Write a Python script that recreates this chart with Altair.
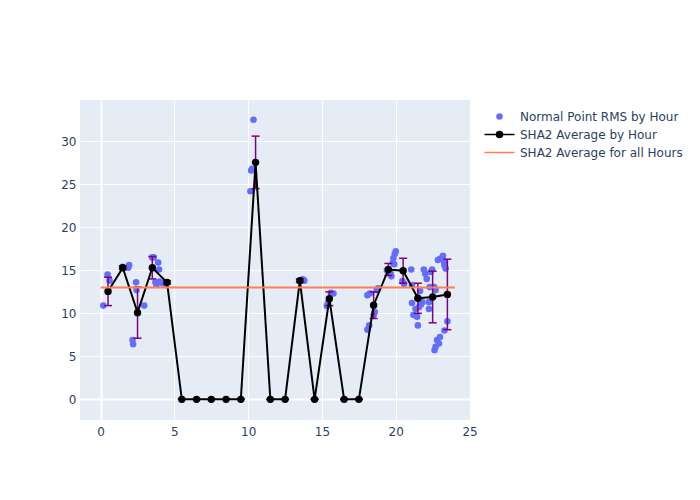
import altair as alt
import pandas as pd

# Normal point RMS scatter (hour-of-day, RMS)
pt_x = [0.18, 0.47, 0.6, 1.48, 1.87, 1.93, 2.16, 2.2, 2.4, 2.43, 2.95,
        3.49, 3.6, 3.9, 3.96, 3.71, 3.78, 4.0, 4.2, 4.4,
        10.36, 10.27, 10.2, 10.15,
        13.69, 13.8,
        15.33, 15.4, 15.6, 15.78,
        18.08, 18.2, 18.5, 18.58, 18.08, 18.24, 18.7, 18.8,
        19.4, 19.66, 19.7, 19.8, 19.9, 19.93, 20.0, 19.84,
        20.45, 20.56,
        21.05, 21.1, 21.1, 21.2, 21.45, 21.5, 21.34, 21.57, 21.7, 21.8, 21.65,
        21.9, 22.0, 22.1, 22.36, 22.47, 22.3, 22.6, 22.7, 22.25, 22.25,
        22.86, 23.0, 23.2, 23.27, 23.3, 23.38, 23.5, 23.3, 23.0, 22.8, 22.93, 22.7, 22.63]
pt_y = [10.9, 14.5, 13.8, 15.4, 15.3, 15.6, 6.9, 6.4, 13.6, 12.7, 10.9,
        16.5, 16.5, 15.9, 15.1, 13.6, 13.3, 13.7, 13.5, 13.3,
        32.5, 26.8, 26.6, 24.2,
        13.95, 13.8,
        10.85, 11.2, 12.4, 12.3,
        8.1, 8.6, 9.8, 10.15, 12.1, 12.3, 12.7, 12.9,
        15.0, 14.6, 14.3, 15.85, 15.7, 16.9, 17.2, 16.4,
        13.75, 13.45,
        15.1, 13.3, 11.2, 9.8, 9.6, 8.6, 10.5, 10.7, 11.0, 11.3, 12.6,
        15.1, 14.6, 14.0, 14.8, 15.1, 13.05, 13.05, 12.7, 11.3, 10.5,
        16.2, 16.35, 16.7, 16.0, 15.6, 15.2, 9.07, 8.0, 7.25, 6.9, 6.5, 6.1, 5.7]

# Hourly SHA2 averages and error half-widths
hour_x = [0.5, 1.5, 2.5, 3.5, 4.5, 5.5, 6.5, 7.5, 8.5, 9.5, 10.5, 11.5,
          12.5, 13.5, 14.5, 15.5, 16.5, 17.5, 18.5, 19.5, 20.5, 21.5, 22.5, 23.5]
hour_avg = [12.55, 15.3, 10.08, 15.3, 13.6, 0, 0, 0, 0, 0, 27.55, 0,
            0, 13.8, 0, 11.7, 0, 0, 10.95, 15.1, 14.95, 11.75, 11.9, 12.2]
hour_err = [1.65, 0.2, 2.97, 1.3, 0.2, 0, 0, 0, 0, 0, 3.05, 0,
            0, 0.2, 0, 0.8, 0, 0, 1.55, 0.7, 1.45, 1.75, 3.0, 4.1]

# Overall average
all_x = [0, 24]
all_avg = 13.0

series = ["Normal Point RMS by Hour", "SHA2 Average by Hour", "SHA2 Average for all Hours"]
colors = ["#636efa", "black", "coral"]
shapes = [
    "M-0.34,0A0.34,0.34,0,1,0,0.34,0A0.34,0.34,0,1,0,-0.34,0Z",
    "M-2,0L2,0M-0.4,0A0.4,0.4,0,1,0,0.4,0A0.4,0.4,0,1,0,-0.4,0Z",
    "M-2,0L2,0",
]

pts = pd.DataFrame({"x": pt_x, "y": pt_y, "s": series[0]})
hrs = pd.DataFrame({"x": hour_x, "y": hour_avg,
                    "lo": [a - e for a, e in zip(hour_avg, hour_err)],
                    "hi": [a + e for a, e in zip(hour_avg, hour_err)]})
allh = pd.DataFrame({"x": [all_x[0]], "x2": [all_x[1]], "y": [all_avg]})

gw = {"condition": {"test": "datum.value === 0", "value": 2}, "value": 1}
common_axis = dict(grid=True, gridColor="white", gridWidth=gw, domain=False, ticks=False,
                   labelColor="#2a3f5f", labelFont="DejaVu Sans", labelFontSize=12, title=None)
xs = alt.Scale(domain=[-1.4, 25.1], nice=False, zero=False)
ys = alt.Scale(domain=[-2.4, 34.8], nice=False, zero=False)
X = alt.X("x:Q", scale=xs, axis=alt.Axis(values=[0, 5, 10, 15, 20, 25], labelPadding=6, **common_axis))
Y = alt.Y("y:Q", scale=ys, axis=alt.Axis(values=[0, 5, 10, 15, 20, 25, 30], labelPadding=4, **common_axis))

leg = alt.Legend(title=None, orient="none", legendX=411, legendY=8, symbolSize=225,
                 labelFont="DejaVu Sans", labelFontSize=12, labelColor="#2a3f5f",
                 labelOffset=12, rowPadding=3, labelLimit=400)

points = alt.Chart(pts).mark_point(filled=True, opacity=1, strokeWidth=2, size=183).encode(
    x=X, y=Y,
    fill=alt.Fill("s:N", scale=alt.Scale(domain=series, range=colors), legend=leg),
    stroke=alt.Stroke("s:N", scale=alt.Scale(domain=series, range=colors), legend=leg),
    shape=alt.Shape("s:N", scale=alt.Scale(domain=series, range=shapes), legend=leg),
)

ebar = alt.Chart(hrs).mark_rule(color="purple", strokeWidth=1.5).encode(
    x=alt.X("x:Q", scale=xs, title=None), y=alt.Y("lo:Q", scale=ys, title=None), y2="hi:Q")
cap_hi = alt.Chart(hrs).mark_rule(color="purple", strokeWidth=1.5, xOffset=-4, x2Offset=4).encode(
    x=alt.X("x:Q", scale=xs, title=None), x2="x:Q", y=alt.Y("hi:Q", scale=ys, title=None))
cap_lo = alt.Chart(hrs).mark_rule(color="purple", strokeWidth=1.5, xOffset=-4, x2Offset=4).encode(
    x=alt.X("x:Q", scale=xs, title=None), x2="x:Q", y=alt.Y("lo:Q", scale=ys, title=None))
line = alt.Chart(hrs).mark_line(color="black", strokeWidth=2).encode(
    x=alt.X("x:Q", scale=xs, title=None), y=alt.Y("y:Q", scale=ys, title=None))
dots = alt.Chart(hrs).mark_point(filled=True, color="black", opacity=1, size=55).encode(
    x=alt.X("x:Q", scale=xs, title=None), y=alt.Y("y:Q", scale=ys, title=None))
overall = alt.Chart(allh).mark_rule(color="coral", strokeWidth=2).encode(
    x=alt.X("x:Q", scale=xs, title=None), x2="x2:Q", y=alt.Y("y:Q", scale=ys, title=None))

chart = alt.layer(points, ebar, cap_hi, cap_lo, line, dots, overall).properties(
    width=391, height=320,
    autosize=alt.AutoSizeParams(type="none"),
    padding={"left": 72, "top": 92, "right": 221, "bottom": 72},
).configure_view(fill="#E5ECF6", strokeWidth=0)

chart.save("out.html", embed_options={"renderer": "svg", "actions": False})
